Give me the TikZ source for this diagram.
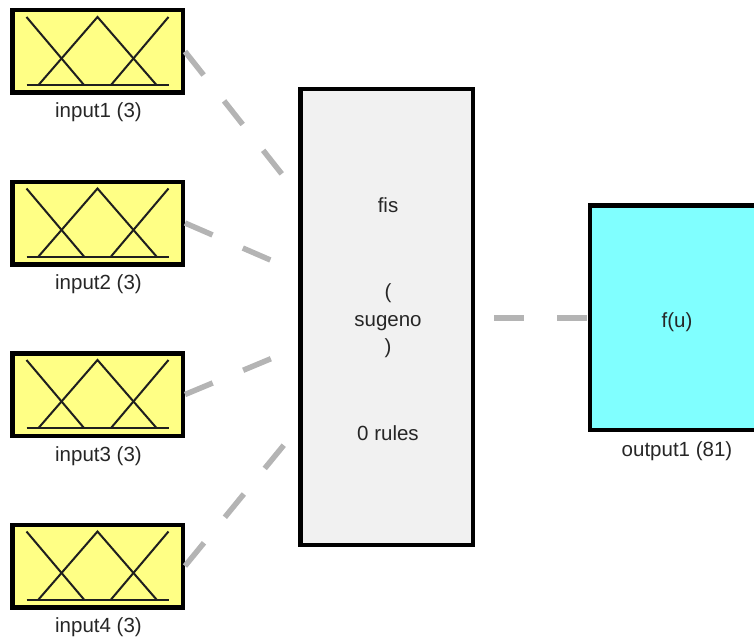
\documentclass[tikz,border=0pt]{standalone}
\usepackage{fontspec}
\setmainfont{Liberation Sans}
\definecolor{inyellow}{RGB}{255,255,133}
\definecolor{outcyan}{RGB}{128,255,255}
\definecolor{fisgray}{RGB}{241,241,241}
\definecolor{conngray}{RGB}{180,180,180}
\definecolor{txtgray}{RGB}{38,38,38}
\newcommand\mfshapes[1]{%
  \begin{scope}[shift={(#1.center)}]
    \draw[mfline] (-71,33.5) -- (71,33.5);
    \draw[mfline] (-71,-34.5) -- (-13.5,33.5);
    \draw[mfline] (-59,33.5) -- (0,-34.5) -- (59,33.5);
    \draw[mfline] (13.5,33.5) -- (71,-34.5);
  \end{scope}}
\begin{document}
\begin{tikzpicture}[x=1pt,y=-1pt,
  font=\fontsize{20.5}{24}\selectfont,
  inbox/.style={draw=black, line width=4.5pt, fill=inyellow, minimum width=170.5pt, minimum height=82.5pt, inner sep=0pt},
  fisbox/.style={draw=black, line width=4.5pt, fill=fisgray, minimum width=172.5pt, minimum height=455.5pt, inner sep=0pt},
  outbox/.style={draw=black, line width=4.5pt, fill=outcyan, minimum width=174pt, minimum height=224.5pt, inner sep=0pt},
  mfline/.style={draw=black!88, line width=2pt},
  conn/.style={draw=conngray, line width=5.5pt, dash pattern=on 30pt off 33pt},
  lbl/.style={anchor=base, text=txtgray, inner sep=0pt}]
\useasboundingbox (0,0) rectangle (754,639);
% input boxes
\node[inbox] (in1) at (97.5,51.5) {};
\node[inbox] (in2) at (97.5,223) {};
\node[inbox] (in3) at (97.5,394.5) {};
\node[inbox] (in4) at (97.5,566) {};
\mfshapes{in1}
\mfshapes{in2}
\mfshapes{in3}
\mfshapes{in4}
\node[lbl] (l1) at (98.5,118) {input1 (3)};
\node[lbl] (l2) at (98.5,289.5) {input2 (3)};
\node[lbl] (l3) at (98.5,461) {input3 (3)};
\node[lbl] (l4) at (98.5,632.5) {input4 (3)};
% fis box
\node[fisbox] (fis) at (386.5,317) {};
\node[lbl] (tfis) at (388,212) {fis};
\node[lbl] (topen) at (388,298) {(};
\node[lbl] (tsug) at (388,326) {sugeno};
\node[lbl] (tclose) at (388,353) {)};
\node[lbl] (trules) at (388,440) {0 rules};
% output box
\node[outbox] (out) at (677,317.5) {};
\node[lbl] (tfu) at (677,327) {f(u)};
\node[lbl] (lout) at (677,456) {output1 (81)};
% connector ends
\coordinate (e1) at (285,178);
\coordinate (e2) at (275,262);
\coordinate (e3) at (275,357);
\coordinate (e4) at (288,440);
\coordinate (eo) at (494,318);
\draw[conn] (in1.east) -- (e1);
\draw[conn] (in2.east) -- (e2);
\draw[conn] (in3.east) -- (e3);
\draw[conn] (in4.east) -- (e4);
\draw[conn] (eo) -- (out.west |- eo);
\end{tikzpicture}
\end{document}
